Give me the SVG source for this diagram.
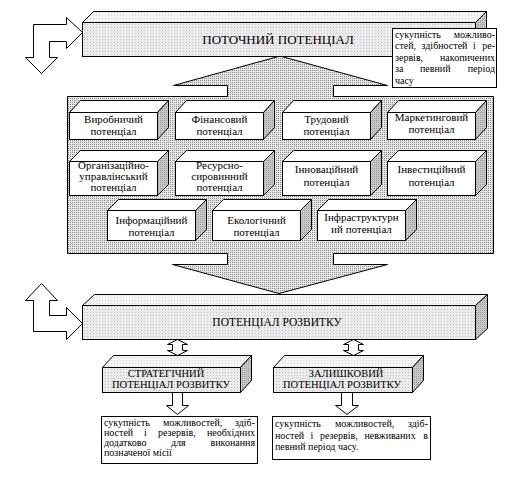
<svg xmlns="http://www.w3.org/2000/svg" width="506" height="483" viewBox="0 0 506 483">
<defs>
<pattern id="pPanel" width="2" height="2" patternUnits="userSpaceOnUse"><rect width="2" height="2" fill="#e6e6e6"/><rect width="1" height="1" fill="#8c8c8c"/></pattern>
<pattern id="pFront" width="3" height="3" patternUnits="userSpaceOnUse"><rect width="3" height="3" fill="#ebebeb"/><rect width="1" height="1" fill="#c2c2c2"/></pattern>
<pattern id="pTop" width="3" height="3" patternUnits="userSpaceOnUse"><rect width="3" height="3" fill="#f4f4f4"/><rect width="1" height="1" fill="#d4d4d4"/></pattern>
<pattern id="pSide" width="2" height="2" patternUnits="userSpaceOnUse"><rect width="2" height="2" fill="#c8c8c8"/><rect width="1" height="1" fill="#9a9a9a"/></pattern>
<style>
.ln{stroke:#000;stroke-width:1;stroke-linejoin:miter}
.panel{fill:url(#pPanel)}
.front{fill:url(#pFront)}
.top{fill:url(#pTop)}
.side{fill:url(#pSide)}
.wf{fill:#fff}
.arr{fill:#fff;stroke:#000;stroke-width:1}
.t{font-family:"Liberation Serif","DejaVu Serif",serif;fill:#000;text-anchor:middle}
.s11{font-size:11px}
.d{font-family:"Liberation Serif","DejaVu Serif",serif;fill:#000;font-size:10px}
.e{text-anchor:end}
</style>
</defs>
<rect width="506" height="483" fill="#fff"/>

<g id="connectors">
<polygon class="arr" points="82.5,32.5 66.5,17.5 66.5,24.5 33.5,24.5 33.5,57.5 25.5,57.5 41.5,73.5 57.5,57.5 49.5,57.5 49.5,41.5 66.5,41.5 66.5,48.5"/>
<polygon class="arr" points="41.5,283.5 57.5,300.5 49.5,300.5 49.5,315.5 66.5,315.5 66.5,307.5 82.5,323.5 66.5,339.5 66.5,331.5 33.5,331.5 33.5,300.5 25.5,300.5"/>
<polygon class="arr" points="362.5,36.5 383.5,36.5 383.5,32.5 392.5,39.5 383.5,46.5 383.5,42.5 362.5,42.5"/>
<polygon class="arr" points="177.5,339.5 187.5,344.5 182.5,344.5 182.5,350.5 187.5,350.5 177.5,355.5 167.5,350.5 172.5,350.5 172.5,344.5 167.5,344.5"/>
<polygon class="arr" points="353.5,339.5 363.5,344.5 358.5,344.5 358.5,350.5 363.5,350.5 353.5,355.5 343.5,350.5 348.5,350.5 348.5,344.5 343.5,344.5"/>
<polygon class="arr" points="172.5,392.5 182.5,392.5 182.5,405.5 188.5,405.5 177.5,414.5 166.5,405.5 172.5,405.5"/>
<polygon class="arr" points="341.5,392.5 352.5,392.5 352.5,405.5 358.5,405.5 347,414.5 335.5,405.5 341.5,405.5"/>
</g>

<g id="panel">
<path class="panel ln" d="M67.5,96.5 H227.5 V85.5 H173.5 L280,56 L387.5,85.5 H333.5 V96.5 H493.5 V253.5 H333.5 V264.5 H387.5 L279,293.5 L172.5,264.5 H227.5 V253.5 H67.5 Z"/>
</g>

<g id="current-potential">
<polygon class="top ln" points="82.5,22.5 93.5,11.5 486.5,11.5 475.5,22.5"/>
<polygon class="side ln" points="475.5,22.5 486.5,11.5 486.5,45.5 475.5,56.5"/>
<rect class="front ln" x="82.5" y="22.5" width="393" height="34"/>
<text class="t" x="278" y="44" font-size="13">ПОТОЧНИЙ ПОТЕНЦІАЛ</text>
</g>

<g id="current-desc">
<rect class="wf ln" x="392.5" y="28.5" width="104" height="59"/>
<text class="d" x="395" y="37.5">сукупність</text><text class="d e" x="495" y="37.5">можливо-</text>
<text class="d" x="395" y="49">стей,</text><text class="d" x="421.5" y="49">здібностей</text><text class="d" x="473" y="49">і</text><text class="d e" x="495" y="49">ре-</text>
<text class="d" x="395" y="60.5">зервів,</text><text class="d e" x="495" y="60.5">накопичених</text>
<text class="d" x="395" y="72">за</text><text class="d" x="420" y="72">певний</text><text class="d e" x="495" y="72">період</text>
<text class="d" x="395" y="83.5">часу</text>
</g>

<g id="box-vyrobnychyi">
<polygon class="wf ln" points="69.5,112.5 80.5,100.5 168.5,100.5 157.5,112.5"/>
<polygon class="side ln" points="157.5,112.5 168.5,100.5 168.5,127.5 157.5,139.5"/>
<rect class="wf ln" x="69.5" y="112.5" width="88" height="27"/>
<text class="t s11" x="113.5" y="123">Виробничий</text>
<text class="t s11" x="113.5" y="135">потенціал</text>
</g>
<g id="box-finansovyi">
<polygon class="wf ln" points="175.5,112.5 186.5,100.5 274.5,100.5 263.5,112.5"/>
<polygon class="side ln" points="263.5,112.5 274.5,100.5 274.5,127.5 263.5,139.5"/>
<rect class="wf ln" x="175.5" y="112.5" width="88" height="27"/>
<text class="t s11" x="219.5" y="123">Фінансовий</text>
<text class="t s11" x="219.5" y="135">потенціал</text>
</g>
<g id="box-trudovyi">
<polygon class="wf ln" points="282.5,112.5 293.5,100.5 381.5,100.5 370.5,112.5"/>
<polygon class="side ln" points="370.5,112.5 381.5,100.5 381.5,127.5 370.5,139.5"/>
<rect class="wf ln" x="282.5" y="112.5" width="88" height="27"/>
<text class="t s11" x="326.5" y="123">Трудовий</text>
<text class="t s11" x="326.5" y="135">потенціал</text>
</g>
<g id="box-marketynhovyi">
<polygon class="wf ln" points="387.5,112.5 398.5,100.5 486.5,100.5 475.5,112.5"/>
<polygon class="side ln" points="475.5,112.5 486.5,100.5 486.5,127.5 475.5,139.5"/>
<rect class="wf ln" x="387.5" y="112.5" width="88" height="27"/>
<text class="t s11" x="431.5" y="121">Маркетинговий</text>
<text class="t s11" x="431.5" y="133">потенціал</text>
</g>

<g id="box-orhanizatsiino">
<polygon class="wf ln" points="69.5,161.5 80.5,150.5 168.5,150.5 157.5,161.5"/>
<polygon class="side ln" points="157.5,161.5 168.5,150.5 168.5,184.5 157.5,195.5"/>
<rect class="wf ln" x="69.5" y="161.5" width="88" height="34"/>
<text class="t s11" x="113.5" y="169">Організаційно-</text>
<text class="t s11" x="113.5" y="180">управлінський</text>
<text class="t s11" x="113.5" y="191">потенціал</text>
</g>
<g id="box-resursno">
<polygon class="wf ln" points="175.5,161.5 186.5,150.5 274.5,150.5 263.5,161.5"/>
<polygon class="side ln" points="263.5,161.5 274.5,150.5 274.5,184.5 263.5,195.5"/>
<rect class="wf ln" x="175.5" y="161.5" width="88" height="34"/>
<text class="t s11" x="219.5" y="169">Ресурсно-</text>
<text class="t s11" x="219.5" y="180">сировинний</text>
<text class="t s11" x="219.5" y="191">потенціал</text>
</g>
<g id="box-innovatsiinyi">
<polygon class="wf ln" points="282.5,161.5 293.5,150.5 381.5,150.5 370.5,161.5"/>
<polygon class="side ln" points="370.5,161.5 381.5,150.5 381.5,184.5 370.5,195.5"/>
<rect class="wf ln" x="282.5" y="161.5" width="88" height="34"/>
<text class="t s11" x="326.5" y="173">Інноваційний</text>
<text class="t s11" x="326.5" y="186">потенціал</text>
</g>
<g id="box-investytsiinyi">
<polygon class="wf ln" points="387.5,161.5 398.5,150.5 486.5,150.5 475.5,161.5"/>
<polygon class="side ln" points="475.5,161.5 486.5,150.5 486.5,184.5 475.5,195.5"/>
<rect class="wf ln" x="387.5" y="161.5" width="88" height="34"/>
<text class="t s11" x="431.5" y="173">Інвестиційний</text>
<text class="t s11" x="431.5" y="186">потенціал</text>
</g>

<g id="box-informatsiinyi">
<polygon class="wf ln" points="107.5,210.5 118.5,199.5 206.5,199.5 195.5,210.5"/>
<polygon class="side ln" points="195.5,210.5 206.5,199.5 206.5,229.5 195.5,240.5"/>
<rect class="wf ln" x="107.5" y="210.5" width="88" height="30"/>
<text class="t s11" x="151.5" y="224">Інформаційний</text>
<text class="t s11" x="151.5" y="236">потенціал</text>
</g>
<g id="box-ekolohichnyi">
<polygon class="wf ln" points="212.5,210.5 223.5,199.5 311.5,199.5 300.5,210.5"/>
<polygon class="side ln" points="300.5,210.5 311.5,199.5 311.5,229.5 300.5,240.5"/>
<rect class="wf ln" x="212.5" y="210.5" width="88" height="30"/>
<text class="t s11" x="256.5" y="224">Екологічний</text>
<text class="t s11" x="256.5" y="236">потенціал</text>
</g>
<g id="box-infrastrukturnyi">
<polygon class="wf ln" points="317.5,210.5 328.5,199.5 416.5,199.5 405.5,210.5"/>
<polygon class="side ln" points="405.5,210.5 416.5,199.5 416.5,229.5 405.5,240.5"/>
<rect class="wf ln" x="317.5" y="210.5" width="88" height="30"/>
<text class="t s11" x="361.5" y="221">Інфраструктурн</text>
<text class="t s11" x="361.5" y="233">ий потенціал</text>
</g>

<g id="development-potential">
<polygon class="top ln" points="82.5,305.5 94.5,294.5 487.5,294.5 475.5,305.5"/>
<polygon class="side ln" points="475.5,305.5 487.5,294.5 487.5,328.5 475.5,339.5"/>
<rect class="front ln" x="82.5" y="305.5" width="393" height="34"/>
<text class="t" x="277" y="326" font-size="11.5">ПОТЕНЦІАЛ РОЗВИТКУ</text>
</g>

<g id="strategic">
<polygon class="top ln" points="102.5,367.5 113.5,355.5 251.5,355.5 240.5,367.5"/>
<polygon class="side ln" points="240.5,367.5 251.5,355.5 251.5,380.5 240.5,392.5"/>
<rect class="front ln" x="102.5" y="367.5" width="138" height="25"/>
<text class="t" x="166" y="377" font-size="10.5">СТРАТЕГІЧНИЙ</text>
<text class="t" x="171" y="388" font-size="10.5">ПОТЕНЦІАЛ РОЗВИТКУ</text>
</g>

<g id="residual">
<polygon class="top ln" points="273.5,367.5 284.5,355.5 423.5,355.5 412.5,367.5"/>
<polygon class="side ln" points="412.5,367.5 423.5,355.5 423.5,380.5 412.5,392.5"/>
<rect class="front ln" x="273.5" y="367.5" width="139" height="25"/>
<text class="t" x="346" y="377" font-size="10.5">ЗАЛИШКОВИЙ</text>
<text class="t" x="342" y="388" font-size="10.5">ПОТЕНЦІАЛ РОЗВИТКУ</text>
</g>

<g id="strategic-desc">
<rect class="wf ln" x="101.5" y="416.5" width="156" height="47"/>
<text class="d" x="104" y="426">сукупність</text><text class="d" x="163" y="426">можливостей,</text><text class="d e" x="255" y="426">здіб-</text>
<text class="d" x="104" y="436">ностей</text><text class="d" x="144" y="436">і</text><text class="d" x="158" y="436">резервів,</text><text class="d e" x="255" y="436">необхідних</text>
<text class="d" x="104" y="446">додатково</text><text class="d" x="171" y="446">для</text><text class="d e" x="255" y="446">виконання</text>
<text class="d" x="104" y="456">позначеної місії</text>
</g>

<g id="residual-desc">
<rect class="wf ln" x="272.5" y="416.5" width="158" height="43"/>
<text class="d" x="275" y="427">сукупність</text><text class="d" x="335" y="427">можливостей,</text><text class="d e" x="428" y="427">здіб-</text>
<text class="d" x="275" y="438.5">ностей</text><text class="d" x="310.5" y="438.5">і</text><text class="d" x="320" y="438.5">резервів,</text><text class="d" x="364.5" y="438.5">невживаних</text><text class="d e" x="428" y="438.5">в</text>
<text class="d" x="275" y="450">певний період часу.</text>
</g>
</svg>
